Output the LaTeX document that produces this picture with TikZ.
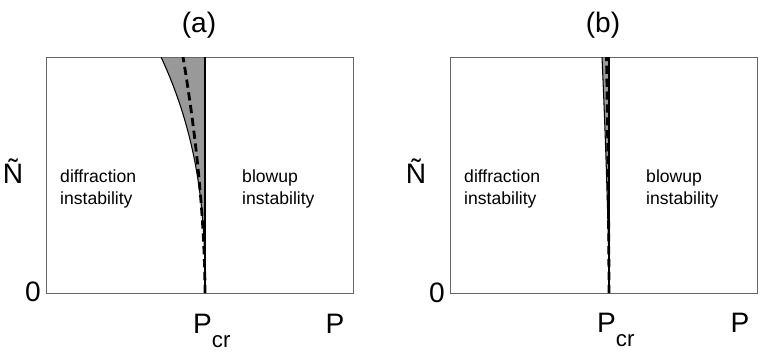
\documentclass[tikz,border=0pt]{standalone}
\usepackage{fontspec}
\setmainfont{Liberation Sans}
\tikzset{
  frame/.style = {draw=black!60, line width=0.8pt},
  unstable/.style = {fill=black!40},% region between the two curves
  boundary/.style = {draw=black, line width=0.9pt},
  critline/.style = {draw=black, line width=1.4pt},
  dashline/.style = {draw=black, line width=2.4pt, dash pattern=on 7pt off 4pt},
  panel_label/.style = {inner sep=0pt, font=\fontsize{24}{24}\selectfont},
  axis_label/.style = {inner sep=0pt, font=\fontsize{24}{24}\selectfont},
  region_label/.style = {inner sep=0pt, align=left, anchor=west,
    font=\fontsize{15}{19.5}\selectfont}
}
\newcommand{\crsub}{\raisebox{-12.5pt}{\fontsize{19}{19}\selectfont cr}}

\begin{document}
\begin{tikzpicture}[x=0.03cm, y=-0.03cm]
  \useasboundingbox (0,0) rectangle (763,357);
  % panel (a)
  \coordinate (sw_a) at (46,293);
  \coordinate (ne_a) at (353,57);
  \coordinate (bot_a) at (205,293);
  \coordinate (top_a) at (205,57);
  \fill[unstable] plot[domain=0:1, samples=60]
      ({205-44*\x*\x*sqrt(\x)},{293-236*\x}) -- (top_a) -- cycle;
  \draw[frame] (sw_a) rectangle (ne_a);
  \draw[boundary] plot[domain=0:1, samples=60]
      ({205-44*\x*\x*sqrt(\x)},{293-236*\x});
  \draw[critline] (bot_a) -- (top_a);
  \draw[dashline] (bot_a) -- plot[domain=0.01:1, samples=40]
      ({205-22*pow(\x,1.8)},{293-236*\x});
  \node[panel_label] (lbl_a) at (199,25) {(a)};
  \node[axis_label] (n_a) at (13,171) {Ñ};
  \node[axis_label] (zero_a) at (33,292) {0};
  \node[axis_label, anchor=base west] (pcr_a) at (193,333) {P\crsub};
  \node[axis_label, anchor=base] (p_a) at (335,333) {P};
  \node[region_label] (diff_a) at (60,189) {diffraction\\instability};
  \node[region_label] (blow_a) at (242,189) {blowup\\instability};

  % panel (b)
  \begin{scope}[shift={(404,0)}]
    \coordinate (sw_b) at (46,293);
    \coordinate (ne_b) at (353,57);
    \coordinate (bot_b) at (205,293);
    \coordinate (top_b) at (205,57);
    \fill[unstable] plot[domain=0:1, samples=60]
        ({205-7*\x*sqrt(\x)},{293-236*\x}) -- (top_b) -- cycle;
    \draw[frame] (sw_b) rectangle (ne_b);
    \draw[boundary] plot[domain=0:1, samples=60]
        ({205-7*\x*sqrt(\x)},{293-236*\x});
    \draw[critline] (bot_b) -- (top_b);
    \draw[dashline] (bot_b) -- plot[domain=0.01:1, samples=40]
        ({205-2.5*pow(\x,1.5)},{293-236*\x});
    \node[panel_label] (lbl_b) at (199,25) {(b)};
    \node[axis_label] (n_b) at (12,171) {Ñ};
    \node[axis_label] (zero_b) at (33,293) {0};
    \node[axis_label, anchor=base west] (pcr_b) at (193,332) {P\crsub};
    \node[axis_label, anchor=base] (p_b) at (336,332) {P};
    \node[region_label] (diff_b) at (60,189) {diffraction\\instability};
    \node[region_label] (blow_b) at (242,189) {blowup\\instability};
  \end{scope}
\end{tikzpicture}
\end{document}
